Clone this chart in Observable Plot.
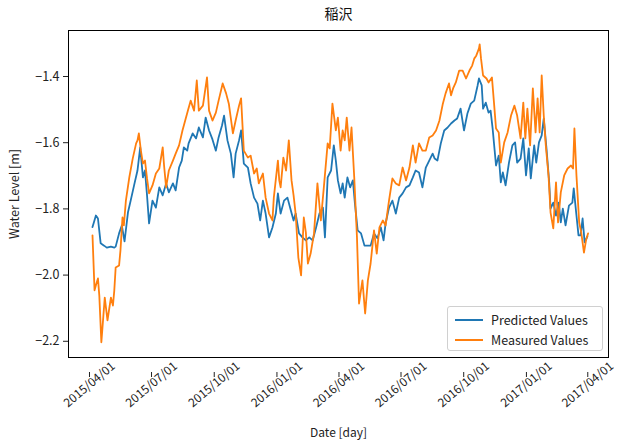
<!DOCTYPE html>
<html>
<head>
<meta charset="utf-8">
<script src="https://cdn.jsdelivr.net/npm/d3@7"></script>
<script src="https://cdn.jsdelivr.net/npm/@observablehq/plot@0.6"></script>
<style>
  html, body { margin: 0; padding: 0; background: #fff; }
  #wrap { position: relative; width: 619px; height: 448px; font-family: "Noto Sans CJK JP", "Noto Sans", sans-serif; }
  #legend { position: absolute; left: 447px; top: 306px; width: 156px; height: 45px; border: 1px solid #d0d0d0; border-radius: 3px; background: rgba(255,255,255,0.85); box-sizing: border-box; font-size: 12.5px; color: #222; }
  #legend .row { position: absolute; left: 7px; display: flex; align-items: center; }
  #legend svg { margin-right: 8px; }
</style>
</head>
<body>
<div id="wrap"></div>
<script>
// ---- data (days since 2015-04-01, water level in m) ----
const startDate = "2015-04-01";
const title = "稲沢";
const seriesNames = ["Predicted Values", "Measured Values"];
const seriesColors = ["#1f77b4", "#ff7f0e"];

const predDays = [0,2,5,8,12,17,21,27,32,34,39,43,47,52,56,61,66,70,74,77,80,83,88,93,98,103,108,112,118,122,127,131,134,139,141,147,152,156,162,166,171,176,181,185,190,193,198,203,207,210,215,218,222,228,232,237,242,246,250,254,259,264,269,272,276,281,286,291,295,298,303,308,313,318,323,328,333,338,341,345,350,354,357,360,364,367,370,374,378,382,385,389,394,399,404,408,413,418,423,427,430,435,440,445,450,455,460,465,470,474,479,484,489,494,499,502,506,511,516,521,526,531,535,540,545,550,555,560,565,567,571,573,577,581,584,587,592,596,599,602,606,611,616,620,623,628,632,636,640,643,648,651,655,659,662,666,670,672,676,680,684,687,690,694,699,704,706,710,713,716,719,722,726];
const predValues = [-1.855,-1.841,-1.820,-1.829,-1.904,-1.911,-1.917,-1.914,-1.917,-1.914,-1.874,-1.850,-1.898,-1.811,-1.775,-1.729,-1.684,-1.614,-1.705,-1.684,-1.759,-1.844,-1.775,-1.796,-1.735,-1.759,-1.723,-1.750,-1.723,-1.744,-1.675,-1.654,-1.614,-1.624,-1.602,-1.572,-1.587,-1.554,-1.584,-1.524,-1.563,-1.590,-1.624,-1.584,-1.548,-1.518,-1.593,-1.633,-1.705,-1.633,-1.593,-1.563,-1.663,-1.675,-1.723,-1.766,-1.784,-1.835,-1.775,-1.814,-1.886,-1.856,-1.814,-1.753,-1.814,-1.775,-1.766,-1.805,-1.835,-1.814,-1.874,-1.886,-1.895,-1.886,-1.895,-1.856,-1.814,-1.796,-1.886,-1.705,-1.684,-1.608,-1.654,-1.714,-1.753,-1.723,-1.766,-1.705,-1.735,-1.714,-1.784,-1.865,-1.874,-1.911,-1.911,-1.911,-1.874,-1.889,-1.856,-1.895,-1.844,-1.796,-1.775,-1.814,-1.766,-1.753,-1.735,-1.729,-1.705,-1.684,-1.690,-1.735,-1.675,-1.654,-1.633,-1.648,-1.654,-1.602,-1.563,-1.554,-1.542,-1.533,-1.527,-1.497,-1.563,-1.512,-1.482,-1.473,-1.427,-1.406,-1.427,-1.497,-1.479,-1.509,-1.503,-1.557,-1.669,-1.639,-1.720,-1.690,-1.729,-1.660,-1.608,-1.599,-1.660,-1.648,-1.587,-1.699,-1.617,-1.708,-1.608,-1.660,-1.599,-1.578,-1.527,-1.617,-1.720,-1.799,-1.781,-1.820,-1.781,-1.841,-1.799,-1.850,-1.790,-1.781,-1.738,-1.820,-1.880,-1.880,-1.829,-1.901,-1.883];

const measDays = [0,3,5,8,10,13,16,18,22,27,30,32,34,39,41,44,46,49,54,59,64,66,68,71,74,77,80,83,88,93,98,103,105,108,112,118,122,127,132,136,140,144,149,153,156,162,168,171,176,181,185,191,196,200,206,210,215,218,222,228,232,237,241,244,250,254,259,264,266,272,274,276,280,284,288,292,295,298,302,306,310,313,316,320,325,330,335,339,345,348,352,357,360,364,367,370,373,377,380,384,388,391,396,400,404,408,413,417,421,426,430,435,440,445,450,455,460,465,470,474,479,484,489,494,499,504,509,514,518,523,526,529,533,538,543,548,553,557,560,563,567,568,570,573,578,581,586,589,592,596,599,604,609,614,619,623,628,632,635,638,642,646,650,653,656,659,662,665,669,672,676,680,683,687,692,697,702,705,707,710,714,717,721,724,727];
const measValues = [-1.880,-2.046,-2.031,-2.010,-2.062,-2.203,-2.122,-2.068,-2.137,-2.068,-2.092,-2.046,-1.977,-1.971,-1.926,-1.826,-1.850,-1.775,-1.705,-1.648,-1.602,-1.593,-1.572,-1.624,-1.663,-1.654,-1.708,-1.753,-1.729,-1.693,-1.678,-1.614,-1.669,-1.735,-1.684,-1.654,-1.633,-1.608,-1.563,-1.533,-1.503,-1.473,-1.503,-1.412,-1.503,-1.488,-1.403,-1.503,-1.533,-1.509,-1.473,-1.421,-1.451,-1.482,-1.572,-1.533,-1.488,-1.466,-1.624,-1.645,-1.639,-1.693,-1.678,-1.723,-1.693,-1.766,-1.814,-1.835,-1.766,-1.654,-1.714,-1.735,-1.645,-1.684,-1.593,-1.714,-1.759,-1.814,-1.947,-2.001,-1.826,-1.871,-1.965,-1.935,-1.874,-1.723,-1.835,-1.744,-1.602,-1.617,-1.482,-1.563,-1.524,-1.624,-1.563,-1.593,-1.524,-1.624,-1.554,-1.705,-1.886,-2.086,-2.016,-2.116,-2.016,-1.965,-1.865,-1.935,-1.856,-1.835,-1.850,-1.775,-1.708,-1.723,-1.729,-1.675,-1.714,-1.675,-1.608,-1.660,-1.602,-1.624,-1.624,-1.584,-1.578,-1.563,-1.533,-1.482,-1.451,-1.421,-1.457,-1.436,-1.418,-1.382,-1.382,-1.406,-1.382,-1.367,-1.346,-1.337,-1.315,-1.303,-1.346,-1.397,-1.406,-1.418,-1.403,-1.479,-1.557,-1.569,-1.660,-1.599,-1.569,-1.518,-1.488,-1.518,-1.587,-1.479,-1.587,-1.497,-1.608,-1.436,-1.569,-1.466,-1.569,-1.397,-1.518,-1.608,-1.699,-1.811,-1.859,-1.720,-1.841,-1.750,-1.699,-1.678,-1.669,-1.678,-1.557,-1.699,-1.841,-1.871,-1.932,-1.895,-1.874];

const xTickDates = ["2015-04-01","2015-07-01","2015-10-01","2016-01-01","2016-04-01","2016-07-01","2016-10-01","2017-01-01","2017-04-01"];
const yTicks = [-2.2, -2.0, -1.8, -1.6, -1.4];

// ---- build ----
const t0 = new Date(startDate + "T00:00:00Z").getTime();
const toDate = d => new Date(t0 + d * 864e5);
const rows = [];
predDays.forEach((d, i) => rows.push({date: toDate(d), value: predValues[i], series: seriesNames[0]}));
measDays.forEach((d, i) => rows.push({date: toDate(d), value: measValues[i], series: seriesNames[1]}));

const fmtDate = d3.utcFormat("%Y/%m/%d");
const font = '"Noto Sans CJK JP", "Noto Sans", sans-serif';

const chart = Plot.plot({
  width: 619,
  height: 448,
  marginLeft: 68,
  marginRight: 11,
  marginTop: 30,
  marginBottom: 91,
  style: {fontFamily: font, fontSize: "12.5px", color: "#222", background: "#fff", overflow: "visible"},
  x: {type: "utc", domain: [toDate(-35.2), toDate(757)]},
  y: {domain: [-2.249, -1.261]},
  color: {domain: seriesNames, range: seriesColors},
  marks: [
    Plot.axisX({ticks: xTickDates.map(s => new Date(s + "T00:00:00Z")), tickFormat: fmtDate, tickSize: 5, tickRotate: -40, textAnchor: "middle", lineAnchor: "middle", dy: 15, dx: -3, label: "Date [day]", labelAnchor: "center", labelArrow: "none", labelOffset: 79, fontSize: 12}),
    Plot.axisY({ticks: yTicks, tickFormat: d3.format(".1f"), tickSize: 5, label: "Water Level [m]", labelAnchor: "center", labelArrow: "none", labelOffset: 58, fontSize: 12.5}),
    Plot.lineY(rows.filter(r => r.series === seriesNames[0]), {x: "date", y: "value", stroke: "series", strokeWidth: 1.8}),
    Plot.lineY(rows.filter(r => r.series === seriesNames[1]), {x: "date", y: "value", stroke: "series", strokeWidth: 1.8}),
    Plot.frame({stroke: "#000", strokeWidth: 1}),
    Plot.text([title], {frameAnchor: "top", dy: -21, fontSize: 14, fill: "#111"})
  ]
});
document.getElementById("wrap").appendChild(chart);

// legend
const legend = document.createElement("div");
legend.id = "legend";
seriesNames.forEach((name, i) => {
  const row = document.createElement("div");
  row.className = "row";
  row.style.top = (i === 0 ? 3 : 23) + "px";
  row.innerHTML = `<svg width="28" height="16"><line x1="0" x2="28" y1="8" y2="8" stroke="${seriesColors[i]}" stroke-width="2"/></svg><span>${name}</span>`;
  legend.appendChild(row);
});
document.getElementById("wrap").appendChild(legend);
</script>
</body>
</html>
